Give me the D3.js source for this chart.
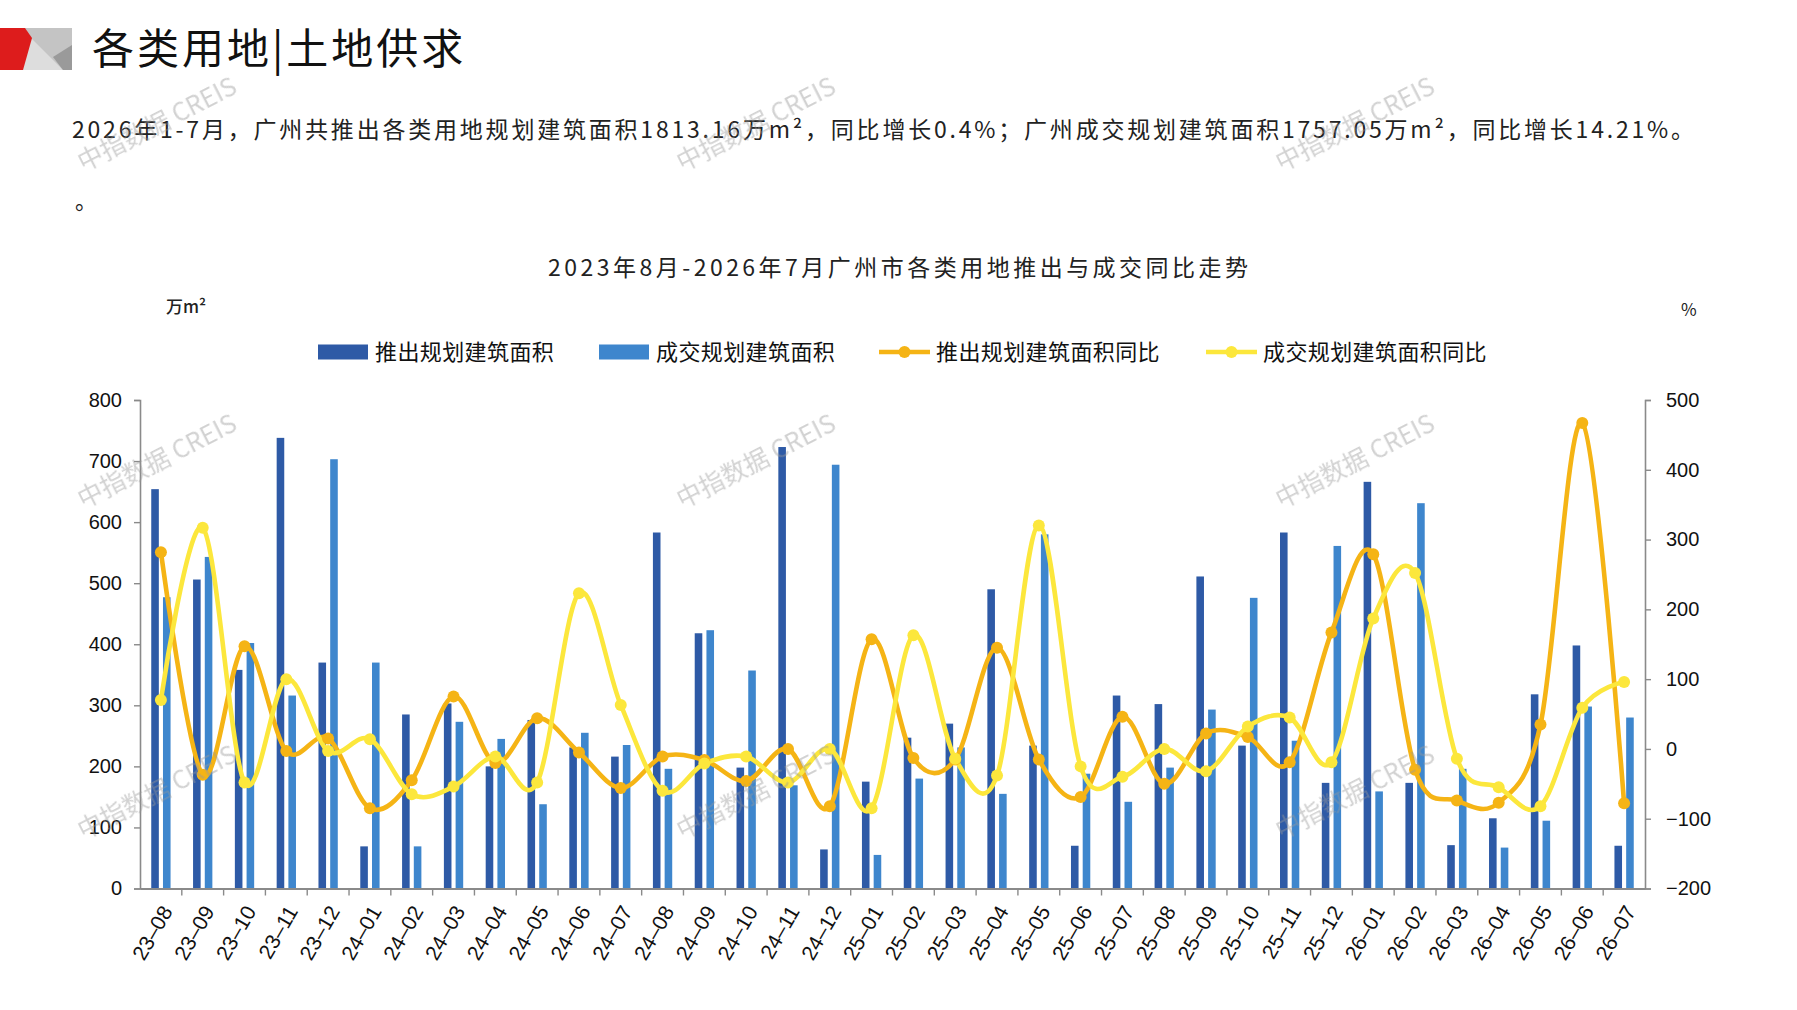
<!DOCTYPE html>
<html><head><meta charset="utf-8">
<script src="https://cdn.jsdelivr.net/npm/d3@7"></script>
<style>
html,body{margin:0;padding:0;background:#fff;}
svg{display:block;}
</style></head>
<body>
<svg id="c" width="1797" height="1010"></svg>
<script>
const months = ["23-08","23-09","23-10","23-11","23-12","24-01","24-02","24-03","24-04","24-05","24-06","24-07","24-08","24-09","24-10","24-11","24-12","25-01","25-02","25-03","25-04","25-05","25-06","25-07","25-08","25-09","25-10","25-11","25-12","26-01","26-02","26-03","26-04","26-05","26-06","26-07"];
const supplyArea = [654,506,358,738,370,69,285,303,200,276,231,216,583,418,198,723,64,175,247,270,490,234,70,316,302,511,234,583,173,666,173,71,115,318,398,70];
const dealArea   = [477,543,402,316,703,370,69,273,245,138,255,235,196,423,357,169,694,55,180,231,155,580,188,142,198,293,476,242,561,159,631,196,67,111,298,280];
const supplyYoY  = [282,-37,147,-3,15,-85,-45,75,-20,44,-5,-56,-11,-16,-46,0,-82,157,-13,-15,145,-15,-69,46,-50,22,17,-19,167,279,-30,-74,-77,35,467,-78];
const dealYoY    = [70,317,-48,100,-3,14,-65,-54,-11,-48,223,63,-60,-21,-11,-48,0,-85,163,-14,-38,320,-25,-40,0,-32,32,45,-19,187,252,-14,-55,-82,59,96];
const leftTicks  = [0,100,200,300,400,500,600,700,800];
const rightTicks = [-200,-100,0,100,200,300,400,500];
const seriesNames = ["推出规划建筑面积","成交规划建筑面积","推出规划建筑面积同比","成交规划建筑面积同比"];
const pageTitle = "各类用地|土地供求";
const summary = "2026年1-7月，广州共推出各类用地规划建筑面积1813.16万m²，同比增长0.4%；广州成交规划建筑面积1757.05万m²，同比增长14.21%。";
const chartTitle = "2023年8月-2026年7月广州市各类用地推出与成交同比走势";

const C = {dark:"#2E5AA6", light:"#3E86CD", orange:"#F5B415", yellow:"#FCE73C", axis:"#8a8a8a"};
const CJK = "'Noto Sans CJK SC','Noto Sans',sans-serif";
const LAT = "'Liberation Sans',Arial,sans-serif";

const svg = d3.select("#c");

// logo
const logo = svg.append("g");
logo.append("rect").attr("x",24).attr("y",28).attr("width",48).attr("height",42).attr("fill","#c4c4c4");
logo.append("polygon").attr("points","31,38 63,70 22,70").attr("fill","#dddddd");
logo.append("polygon").attr("points","72,45 53,57 63,70 72,70").attr("fill","#9a9a9a");
logo.append("polygon").attr("points","0,28 25,28 32,38 23,70 0,70").attr("fill","#dd1c1c");

svg.append("text").attr("x",92).attr("y",64).attr("font-family",CJK).attr("font-size",42)
  .attr("letter-spacing",3).attr("fill","#111").text(pageTitle);

svg.append("text").attr("x",72).attr("y",138).attr("font-family",CJK).attr("font-size",23)
  .attr("fill","#222").attr("textLength",1622).attr("lengthAdjust","spacing").text(summary);
svg.append("text").attr("x",75).attr("y",209).attr("font-family",CJK).attr("font-size",22)
  .attr("fill","#222").text("。");

svg.append("text").attr("x",898).attr("y",276).attr("text-anchor","middle").attr("font-family",CJK)
  .attr("font-size",23).attr("fill","#222").attr("textLength",700).attr("lengthAdjust","spacing").text(chartTitle);

svg.append("text").attr("x",166).attr("y",313).attr("font-family",CJK).attr("font-size",17).attr("font-weight",500).attr("fill","#222").text("万m²");
svg.append("text").attr("x",1681).attr("y",316).attr("font-family",CJK).attr("font-size",17).attr("fill","#222").text("%");

// scales
const x0 = 140, x1 = 1645, yTop = 400, yBot = 888.5;
const x = d3.scaleBand().domain(months).range([x0,x1]).paddingInner(0).paddingOuter(0);
const xs = d3.scaleBand().domain(["s","d"]).range([0,x.bandwidth()]).paddingInner(0.353).paddingOuter(0.96);
const yL = d3.scaleLinear().domain([0,800]).range([yBot,yTop]);
const yR = d3.scaleLinear().domain([-200,500]).range([yBot,yTop]);

// bars
const g = svg.append("g");
g.selectAll("rect.s").data(supplyArea).join("rect").attr("class","s")
  .attr("x",(d,i)=>x(months[i])+xs("s")).attr("width",xs.bandwidth())
  .attr("y",d=>yL(d)).attr("height",d=>yL(0)-yL(d)).attr("fill",C.dark);
g.selectAll("rect.d").data(dealArea).join("rect").attr("class","d")
  .attr("x",(d,i)=>x(months[i])+xs("d")).attr("width",xs.bandwidth())
  .attr("y",d=>yL(d)).attr("height",d=>yL(0)-yL(d)).attr("fill",C.light);

// axes
const axL = svg.append("g").attr("transform",`translate(${x0},0)`)
  .call(d3.axisLeft(yL).tickValues(leftTicks).tickSize(6).tickPadding(12).tickFormat(d3.format("d")));
const axR = svg.append("g").attr("transform",`translate(${x1},0)`)
  .call(d3.axisRight(yR).tickValues(rightTicks).tickSize(6).tickPadding(15).tickFormat(d=>d<0?"−"+Math.abs(d):String(d)));
[axL,axR].forEach(a=>{
  a.select(".domain").attr("stroke",C.axis).attr("stroke-width",1.6);
  a.selectAll(".tick line").attr("stroke",C.axis).attr("stroke-width",1.4);
  a.selectAll("text").attr("font-family",LAT).attr("font-size",20).attr("fill","#111");
});
const axB = svg.append("g").attr("transform",`translate(0,${yBot})`)
  .call(d3.axisBottom(x).tickSize(0).tickFormat(""));
axB.select(".domain").attr("stroke",C.axis).attr("stroke-width",1.8);
axB.selectAll(".sep").data(months.slice(1)).join("line").attr("class","sep")
  .attr("x1",d=>x(d)).attr("x2",d=>x(d)).attr("y1",0).attr("y2",7).attr("stroke",C.axis).attr("stroke-width",1.4);
axB.selectAll(".lbl").data(months).join("text").attr("class","lbl")
  .attr("transform",d=>`translate(${x(d)+x.bandwidth()/2+6},19) rotate(-60)`)
  .attr("text-anchor","end").attr("dy","0.35em")
  .attr("font-family",LAT).attr("font-size",21).attr("fill","#111")
  .text(d=>d.replace("-","–"));

// lines (all lines first, then markers)
const cx = i => x(months[i]) + x.bandwidth()/2;
const line = d3.line().x((d,i)=>cx(i)).y(d=>yR(d)).curve(d3.curveCardinal.tension(0));
const lineSeries = [[supplyYoY,C.orange],[dealYoY,C.yellow]];
lineSeries.forEach(([data,col])=>{
  svg.append("path").datum(data).attr("d",line).attr("fill","none").attr("stroke",col).attr("stroke-width",4.6);
});
lineSeries.forEach(([data,col])=>{
  svg.append("g").selectAll("circle").data(data).join("circle")
    .attr("cx",(d,i)=>cx(i)).attr("cy",d=>yR(d)).attr("r",6).attr("fill",col);
});

// legend
const lg = svg.append("g").attr("font-family",CJK).attr("font-size",22).attr("fill","#111");
const legendItems = [
  {x:318, type:"rect", col:C.dark, name:seriesNames[0]},
  {x:599, type:"rect", col:C.light, name:seriesNames[1]},
  {x:879, type:"line", col:C.orange, name:seriesNames[2]},
  {x:1206, type:"line", col:C.yellow, name:seriesNames[3]}
];
const ly = 352;
legendItems.forEach(it=>{
  if(it.type==="rect"){
    lg.append("rect").attr("x",it.x).attr("y",ly-7.5).attr("width",50).attr("height",15).attr("fill",it.col);
  } else {
    lg.append("line").attr("x1",it.x).attr("x2",it.x+51).attr("y1",ly).attr("y2",ly).attr("stroke",it.col).attr("stroke-width",4.6);
    lg.append("circle").attr("cx",it.x+25.5).attr("cy",ly).attr("r",6).attr("fill",it.col);
  }
  lg.append("text").attr("x",it.x+57).attr("y",ly).attr("dy","0.36em").attr("letter-spacing",0.4).text(it.name);
});

// watermarks
const wm = svg.append("g").attr("font-family",CJK).attr("font-size",25).attr("fill","#9a9a9a").attr("opacity",0.45);
[[157,124],[756,124],[1355,124],[157,461],[756,461],[1355,461],[157,792],[756,792],[1355,792]].forEach(([a,b])=>{
  wm.append("text").attr("transform",`translate(${a},${b}) rotate(-27)`).attr("text-anchor","middle")
    .attr("dy","0.35em").text("中指数据 CREIS");
});
</script>
</body></html>
